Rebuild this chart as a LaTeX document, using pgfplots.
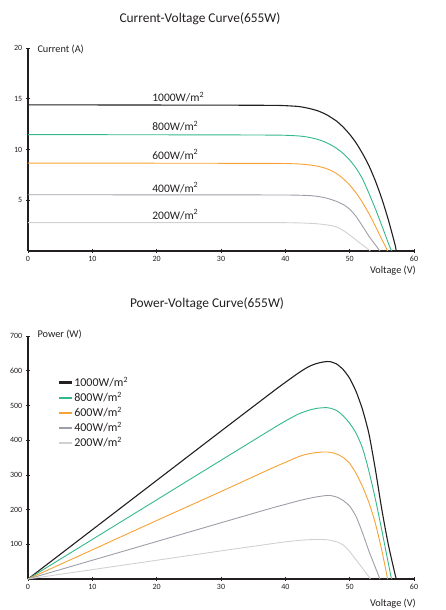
\documentclass[border=0pt]{standalone}
\usepackage{pgfplots}
\pgfplotsset{compat=1.18}
\usepackage{pgfplotstable}
\usepackage{fontspec}
\setmainfont{Carlito}

\definecolor{axisc}{HTML}{231F20}
\definecolor{cA}{HTML}{231F20}
\definecolor{cB}{HTML}{33B88A}
\definecolor{cC}{HTML}{F7A234}
\definecolor{cD}{HTML}{9C9FA8}
\definecolor{cE}{HTML}{D0D1D4}

% V = voltage, I = current (I-V chart), P = power (P-V chart)
\pgfplotstableread{
V I P
0 14.40 0
10 14.39 142
20 14.38 284
30 14.37 426
38 14.35 539
40 14.32 566.5
42 14.24 593
43 14.14 605
44 14.00 615
45 13.82 621.5
46 13.56 625.5
46.5 13.40 626.5
47 13.20 626
48 12.78 619
49 12.20 603
50 11.50 578
51 10.65 540
52 9.60 488
53 8.40 418
54 6.90 315
55 5.15 200
56 3.10 100
57 0.75 18
57.25 0 0
}\tA
\pgfplotstableread{
V I P
0 11.46 0
10 11.46 114
20 11.45 228
30 11.44 342
38 11.42 433
40 11.40 455
42 11.34 475
43 11.27 482
44 11.16 488
45 11.00 492
46 10.78 493.5
46.5 10.64 493.5
47 10.48 492
48 10.10 485
49 9.60 470
50 8.97 448.5
51 8.15 420
52 7.10 377
53 5.68 310
54 4.15 230
55 2.50 140
56 0.80 46
56.5 0 0
}\tB
\pgfplotstableread{
V I P
0 8.66 0
10 8.66 84
20 8.65 168.5
30 8.64 252
38 8.63 320
40 8.62 336
42 8.58 352
43 8.53 358
44 8.46 362
45 8.36 364.5
46 8.20 366
46.5 8.09 366
47 7.96 365
48 7.62 360
49 7.12 350
50 6.50 333
51 5.72 304
52 4.77 266
53 3.68 220
54 2.45 160
55 1.15 82
55.9 0 0
}\tC
\pgfplotstableread{
V I P
0 5.54 0
10 5.54 54
20 5.53 108
30 5.53 162
38 5.52 205
40 5.52 215
42 5.50 225
43 5.48 229.5
44 5.45 233.5
45 5.38 237
46 5.27 239.7
46.5 5.19 240.6
47 5.10 240.5
48 4.88 236
49 4.58 226
50 4.12 210
51 3.40 180
52 2.45 133
53 1.45 80
54 0.60 33
54.7 0 0
}\tD
\pgfplotstableread{
V I P
0 2.80 0
10 2.80 27
20 2.80 54
30 2.80 81
38 2.79 102
40 2.79 107
42 2.77 111
43 2.75 112.5
44 2.72 113.5
45 2.68 114
46 2.61 113.5
46.5 2.57 113
47 2.52 111.5
48 2.36 107
49 2.02 98
50 1.58 79
51 1.08 55
52 0.60 31
53 0.12 6
53.2 0 0
}\tE

\pgfplotsset{
  pvbase/.style={
    scale only axis,
    width=386pt,
    anchor=south west,
    axis lines=left,
    axis line style={-, line width=1.1pt, draw=axisc},
    xmin=0, xmax=60,
    xtick={0,10,...,60},
    minor x tick num=1,
    tick style={draw=axisc, line width=0.6pt},
    major tick length=3.5pt,
    minor tick length=2.5pt,
    tick label style={font=\fontsize{8}{9}\selectfont, text=axisc},
    yticklabel style={xshift=-0.5pt},
    /pgf/number format/assume math mode=true,
    clip=false,
    every axis plot/.append style={smooth, tension=0.4, mark=none},
  }
}

\begin{document}
\begin{tikzpicture}
\useasboundingbox (0,0) rectangle (446pt,-610pt);

% ---- current-voltage
\begin{axis}[pvbase,
    at={(28pt,-251pt)},
    height=203pt,
    ymin=0, ymax=20,
    ytick={5,10,15,20},
    minor ytick={2.5,7.5,12.5,17.5},
]
\addplot[cE, line width=0.9pt] table[x=V, y=I] {\tE};
\addplot[cD, line width=0.9pt] table[x=V, y=I] {\tD};
\addplot[cC, line width=0.9pt] table[x=V, y=I] {\tC};
\addplot[cB, line width=0.9pt] table[x=V, y=I] {\tB};
\addplot[cA, line width=1.1pt] table[x=V, y=I] {\tA};
\begin{scope}[every node/.style={anchor=base west, inner sep=0pt, font=\fontsize{11.5}{13}\selectfont, text=axisc}]
\node at (axis cs:19.3,14.71) {1000W/m\textsuperscript{2}};
\node at (axis cs:19.3,11.85) {800W/m\textsuperscript{2}};
\node at (axis cs:19.3,9.03) {600W/m\textsuperscript{2}};
\node at (axis cs:19.3,5.81) {400W/m\textsuperscript{2}};
\node at (axis cs:19.3,3.15) {200W/m\textsuperscript{2}};
\end{scope}
\end{axis}

% ---- power-voltage
\begin{axis}[pvbase,
    at={(28pt,-579pt)},
    height=243pt,
    ymin=0, ymax=700,
    ytick={100,200,...,700},
    minor ytick={50,150,...,650},
    legend style={at={(0.07,0.848)}, anchor=north west, draw=none, fill=none,
        font=\fontsize{12}{14}\selectfont, text=axisc,
        nodes={inner xsep=1.2pt, inner ysep=2pt}, row sep=0pt},
    legend cell align=left,
    legend image code/.code={\draw[#1, line width=2.4pt, smooth=false] (0pt,0pt) -- (12.5pt,0pt);},
]
\addplot[cA, line width=1.1pt] table[x=V, y=P] {\tA};
\addlegendentry{1000W/m\textsuperscript{2}}
\addplot[cB, line width=0.9pt] table[x=V, y=P] {\tB};
\addlegendentry{800W/m\textsuperscript{2}}
\addplot[cC, line width=0.9pt] table[x=V, y=P] {\tC};
\addlegendentry{600W/m\textsuperscript{2}}
\addplot[cD, line width=0.9pt] table[x=V, y=P] {\tD};
\addlegendentry{400W/m\textsuperscript{2}}
\addplot[cE, line width=0.9pt] table[x=V, y=P] {\tE};
\addlegendentry{200W/m\textsuperscript{2}}
\end{axis}

% ---- titles and axis names
\node[anchor=base, font=\fontsize{13.4}{15}\selectfont, text=axisc] at (200pt,-22.7pt) {Current-Voltage Curve(655W)};
\node[anchor=base, font=\fontsize{13.4}{15}\selectfont, text=axisc] at (207pt,-307pt) {Power-Voltage Curve(655W)};
\begin{scope}[every node/.style={inner sep=0pt, font=\fontsize{10.3}{12}\selectfont, text=axisc}]
\node[anchor=base west] at (37.3pt,-52.3pt) {Current (A)};
\node[anchor=base west] at (37.3pt,-337.3pt) {Power (W)};
\node[anchor=base east] at (416pt,-273.5pt) {Voltage (V)};
\node[anchor=base east] at (416pt,-606.5pt) {Voltage (V)};
\end{scope}
\end{tikzpicture}
\end{document}
